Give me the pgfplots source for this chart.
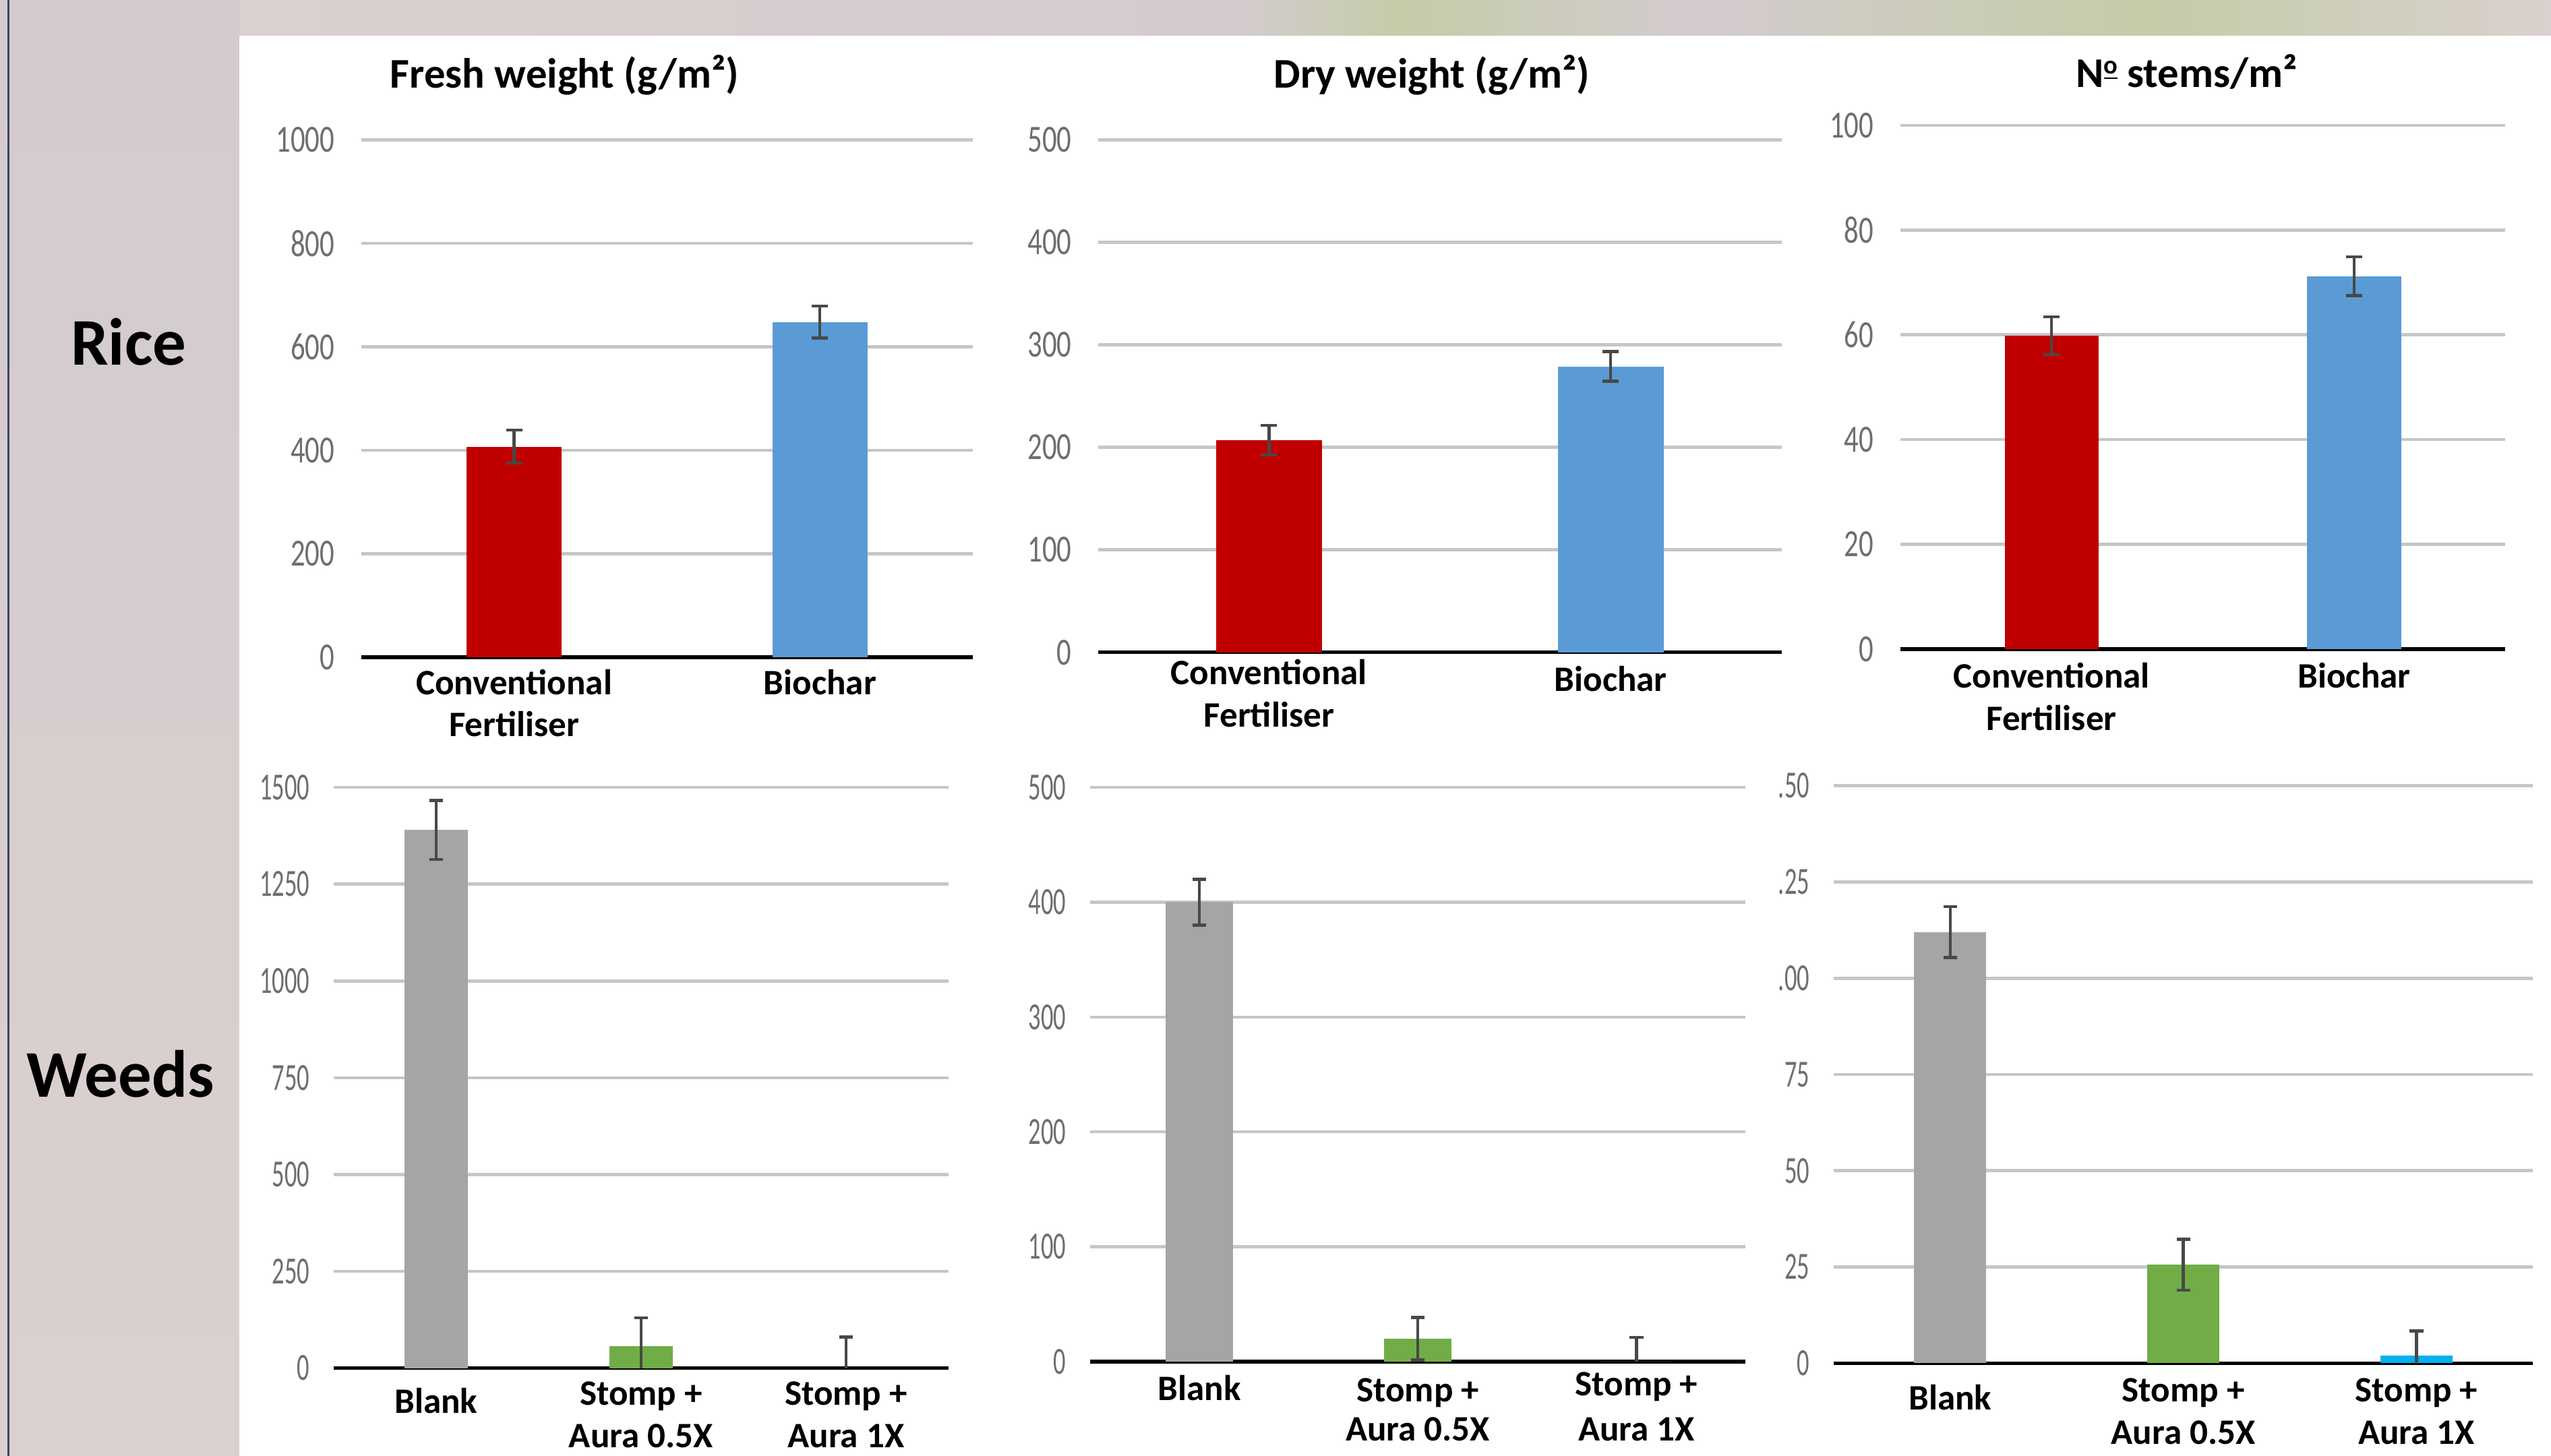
\documentclass[border=0pt]{standalone}
\usepackage{fontspec}
\setmainfont{Carlito}
\newfontfamily\tickfontA[FakeStretch=0.75]{Carlito}
\newfontfamily\tickfontB[FakeStretch=0.64]{Carlito}
\usepackage{pgfplots}
\pgfplotsset{compat=1.18}
\definecolor{cred}{RGB}{192,0,0}
\definecolor{cblue}{RGB}{91,155,213}
\definecolor{cgrey}{RGB}{165,165,165}
\definecolor{cgreen}{RGB}{112,173,71}
\definecolor{ccyan}{RGB}{0,176,240}
\definecolor{gridc}{RGB}{198,198,198}
\definecolor{tickc}{RGB}{110,110,110}
\definecolor{errc}{RGB}{72,72,72}
\definecolor{bgA}{RGB}{212,203,207}
\definecolor{bgB}{RGB}{218,208,206}
\definecolor{bgG}{RGB}{196,204,168}
\definecolor{edgec}{RGB}{60,70,100}
\pgfplotsset{
  panel/.style={
    scale only axis, anchor=south west,
    ymin=0,
    axis x line*=bottom, axis y line*=left,
    y axis line style={draw=none},
    x axis line style={black, line width=1.1pt},
    major tick length=0pt, tick style={draw=none},
    ymajorgrids, major grid style={gridc, line width=0.95pt},
    scaled y ticks=false,
    /pgf/number format/1000 sep={},
    /pgf/number format/assume math mode=true,
    xticklabel style={font=\bfseries\fontsize{11}{13}\selectfont, align=center, anchor=north, inner sep=0pt, text=black},
  },
  toprow/.style={panel, xmin=-0.5, xmax=1.5, xtick={0,1},
    yticklabel style={font=\tickfontA\fontsize{11.8}{12}\selectfont, text=tickc, anchor=east, inner sep=0pt, xshift=-8pt}},
  botrow/.style={panel, xmin=-0.5, xmax=2.5, xtick={0,1,2},
    yticklabel style={font=\tickfontB\fontsize{11.8}{12}\selectfont, text=tickc, anchor=east, inner sep=0pt, xshift=-7.2pt}},
  bar/.style={ybar, bar width=0.31, draw=none, fill=#1,
    error bars/.cd, y dir=both, y explicit,
    error bar style={errc, line width=0.9pt},
    error mark options={rotate=90, errc, line width=0.9pt, mark size=2.5pt}},
  sbar/.style={ybar, bar width=0.31, draw=none, fill=#1,
    error bars/.cd, y dir=both, y explicit,
    error bar style={errc, line width=0.9pt},
    error mark options={rotate=90, errc, line width=0.9pt, mark size=2.1pt}},
}
\begin{document}
\begin{tikzpicture}
\useasboundingbox (0,0) rectangle (784pt,-447.5pt);
% background
\shade[top color=bgA, bottom color=bgB] (0,0) rectangle (73.5pt,-447.5pt);
\shade[left color=bgB, right color=bgA] (73.5pt,0) rectangle (380pt,-11pt);
\shade[left color=bgA, right color=bgG] (380pt,0) rectangle (430pt,-11pt);
\shade[left color=bgG, right color=bgA] (430pt,0) rectangle (520pt,-11pt);
\shade[left color=bgA, right color=bgG] (520pt,0) rectangle (660pt,-11pt);
\shade[left color=bgG, right color=bgB] (660pt,0) rectangle (784pt,-11pt);
\fill[white] (73.5pt,-11pt) rectangle (784pt,-447.5pt);
\draw[edgec, line width=0.5pt] (2.6pt,0) -- (2.6pt,-447.5pt);
% row labels
\node[font=\bfseries\fontsize{20.5}{22}\selectfont] at (39.5pt,-105pt) {Rice};
\node[font=\bfseries\fontsize{20.5}{22}\selectfont] at (37pt,-330pt) {Weeds};
% titles
\node[font=\bfseries\fontsize{13}{15}\selectfont] at (173.5pt,-23pt) {Fresh weight (g/m²)};
\node[font=\bfseries\fontsize{13}{15}\selectfont] at (440pt,-23pt) {Dry weight (g/m²)};
\node[font=\bfseries\fontsize{13}{15}\selectfont] at (672pt,-22pt) {N\raisebox{0.32em}{\fontsize{8}{8}\selectfont\underline{o}} stems/m²};

% Top-left: fresh weight rice
\begin{axis}[toprow, at={(111pt,-202pt)}, width=188pt, height=159pt,
  ymax=1000, ytick={0,200,400,600,800,1000},
  xticklabels={{Conventional\\Fertiliser},{Biochar}},
  xticklabel style={yshift=-3.5pt}]
\addplot[bar=cred] coordinates {(0,407) +- (0,32)};
\addplot[bar=cblue] coordinates {(1,648) +- (0,31)};
\end{axis}

% Top-middle: dry weight rice
\begin{axis}[toprow, at={(337.5pt,-200.5pt)}, width=210pt, height=157.5pt,
  ymax=500, ytick={0,100,200,300,400,500},
  xticklabels={{Conventional\\Fertiliser},{\raisebox{-2pt}[\height]{Biochar}}},
  xticklabel style={yshift=-2pt}]
\addplot[bar=cred] coordinates {(0,207) +- (0,14.5)};
\addplot[bar=cblue] coordinates {(1,279) +- (0,14.5)};
\end{axis}

% Top-right: stems rice
\begin{axis}[toprow, at={(584pt,-199.5pt)}, width=186pt, height=161pt,
  ymax=100, ytick={0,20,40,60,80,100},
  xticklabels={{Conventional\\Fertiliser},{Biochar}},
  xticklabel style={yshift=-4pt}]
\addplot[bar=cred] coordinates {(0,59.8) +- (0,3.6)};
\addplot[bar=cblue] coordinates {(1,71.2) +- (0,3.7)};
\end{axis}

% Bottom-left: fresh weight weeds
\begin{axis}[botrow, at={(102.5pt,-420.5pt)}, width=189pt, height=178.5pt,
  ymax=1500, ytick={0,250,500,750,1000,1250,1500},
  xticklabels={{\raisebox{-2pt}[\height]{Blank}},{Stomp +\\Aura 0.5X},{Stomp +\\Aura 1X}},
  xticklabel style={yshift=-4pt}]
\addplot[sbar=cgrey] coordinates {(0,1390) +- (0,76)};
\addplot[sbar=cgreen] coordinates {(1,57) +- (0,73)};
\addplot[sbar=ccyan] coordinates {(2,0) +- (0,80)};
\end{axis}

% Bottom-middle: dry weight weeds
\begin{axis}[botrow, at={(335pt,-418.5pt)}, width=201.5pt, height=176.5pt,
  ymax=500, ytick={0,100,200,300,400,500},
  xticklabels={{Blank},{\raisebox{-1pt}[\height]{Stomp +}\\Aura 0.5X},{\raisebox{1pt}[\height]{Stomp +}\\Aura 1X}},
  xticklabel style={yshift=-4pt}]
\addplot[sbar=cgrey] coordinates {(0,400) +- (0,20)};
\addplot[sbar=cgreen] coordinates {(1,20) +- (0,18.5)};
\addplot[sbar=ccyan] coordinates {(2,0) +- (0,21)};
\end{axis}

% Bottom-right: stems weeds
\begin{axis}[botrow, at={(563.5pt,-419pt)}, width=215pt, height=177.5pt,
  ymax=150, ytick={0,25,50,75,100,125,150},
  yticklabels={0,25,50,75,.00,.25,.50},
  xticklabels={{\raisebox{-2pt}[\height]{Blank}},{Stomp +\\Aura 0.5X},{Stomp +\\Aura 1X}},
  xticklabel style={yshift=-4.5pt}]
\addplot[sbar=cgrey] coordinates {(0,112) +- (0,6.6)};
\addplot[sbar=cgreen] coordinates {(1,25.6) +- (0,6.6)};
\addplot[sbar=ccyan] coordinates {(2,2) +- (0,6.4)};
\end{axis}
\end{tikzpicture}
\end{document}
